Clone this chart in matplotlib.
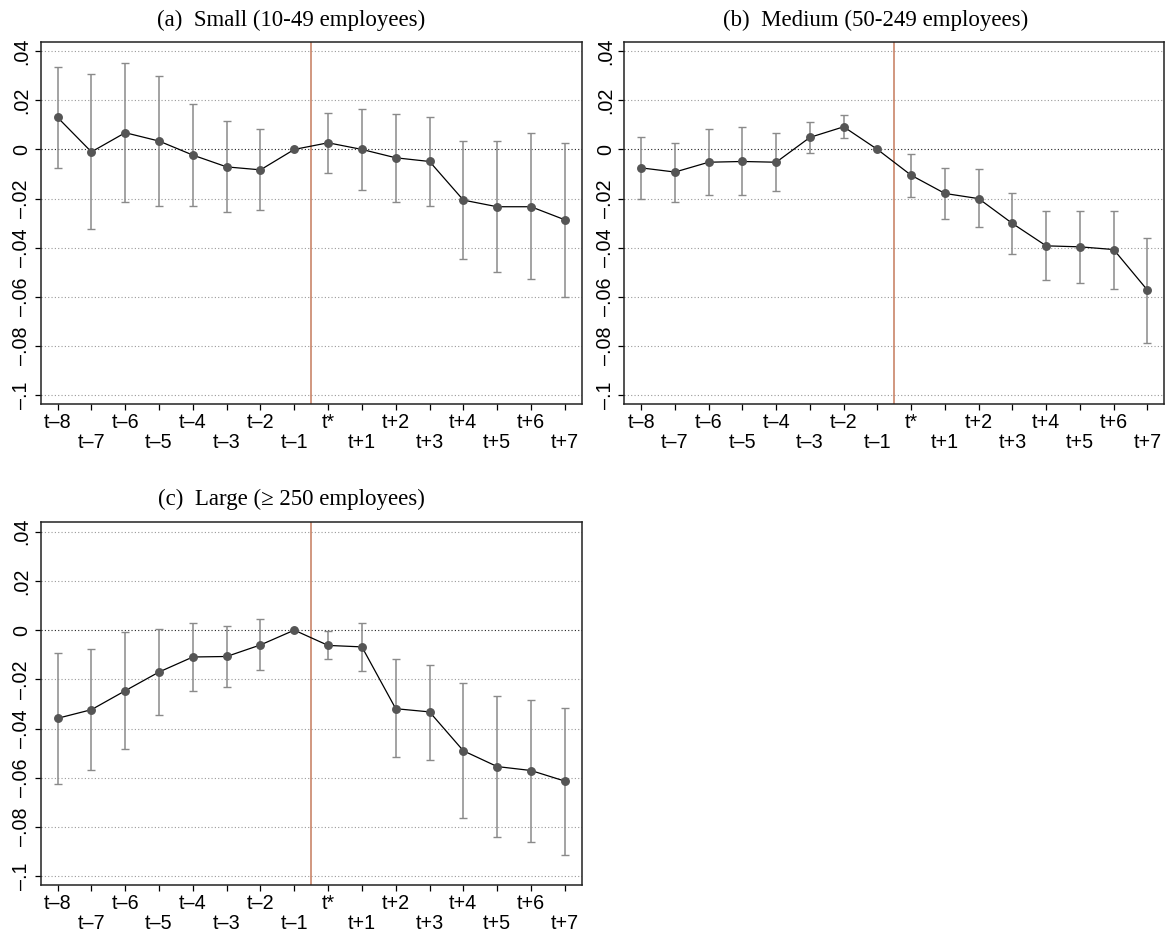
import numpy as np
import matplotlib
matplotlib.use("Agg")
import matplotlib.pyplot as plt

# Event-time labels (t* is the event period, t-1 the omitted reference)
periods = ["t–8", "t–7", "t–6", "t–5", "t–4", "t–3", "t–2", "t–1",
           "t*", "t+1", "t+2", "t+3", "t+4", "t+5", "t+6", "t+7"]
event_pos = [-8, -7, -6, -5, -4, -3, -2, -1, 0, 1, 2, 3, 4, 5, 6, 7]

# (a) Small firms: point estimates and 95% CI bounds
small_coef = [0.0130, -0.0010, 0.0068, 0.0034, -0.0023, -0.0071, -0.0083, 0.0,
              0.0027, 0.0, -0.0034, -0.0049, -0.0206, -0.0233, -0.0233, -0.0286]
small_lo = [-0.0075, -0.0324, -0.0213, -0.0228, -0.0228, -0.0256, -0.0248, 0.0,
            -0.0094, -0.0164, -0.0212, -0.0231, -0.0447, -0.0500, -0.0528, -0.0600]
small_hi = [0.0336, 0.0306, 0.0350, 0.0300, 0.0184, 0.0116, 0.0085, 0.0,
            0.0149, 0.0165, 0.0146, 0.0133, 0.0035, 0.0035, 0.0068, 0.0028]

# (b) Medium firms
medium_coef = [-0.0075, -0.0092, -0.0052, -0.0049, -0.0052, 0.0049, 0.0092, 0.0,
               -0.0105, -0.0179, -0.0200, -0.0301, -0.0392, -0.0396, -0.0407, -0.0572]
medium_lo = [-0.0200, -0.0212, -0.0186, -0.0186, -0.0168, -0.0016, 0.0046, 0.0,
             -0.0193, -0.0282, -0.0317, -0.0427, -0.0532, -0.0543, -0.0566, -0.0787]
medium_hi = [0.0051, 0.0028, 0.0085, 0.0092, 0.0068, 0.0111, 0.0142, 0.0,
             -0.0019, -0.0076, -0.0081, -0.0177, -0.0250, -0.0250, -0.0250, -0.0360]

# (c) Large firms
large_coef = [-0.0358, -0.0323, -0.0246, -0.0170, -0.0109, -0.0107, -0.0060, 0.0,
              -0.0062, -0.0068, -0.0319, -0.0332, -0.0490, -0.0554, -0.0570, -0.0613]
large_lo = [-0.0623, -0.0567, -0.0482, -0.0346, -0.0248, -0.0231, -0.0161, 0.0,
            -0.0119, -0.0166, -0.0516, -0.0526, -0.0764, -0.0839, -0.0859, -0.0912]
large_hi = [-0.0094, -0.0077, -0.0009, 0.0005, 0.0031, 0.0018, 0.0045, 0.0,
            -0.0004, 0.0028, -0.0119, -0.0140, -0.0214, -0.0266, -0.0284, -0.0316]

y_ticks = [0.04, 0.02, 0.0, -0.02, -0.04, -0.06, -0.08, -0.1]
y_ticklabels = [".04", ".02", "0", "–.02", "–.04", "–.06", "–.08", "–.1"]

titles = ["(a)  Small (10-49 employees)",
          "(b)  Medium (50-249 employees)",
          "(c)  Large (≥ 250 employees)"]

SANS = ["Liberation Sans", "DejaVu Sans"]
SERIF = ["Liberation Serif", "DejaVu Serif"]
TICK_FS = 14.2
TITLE_FS = 16.5

fig = plt.figure(figsize=(11.66, 9.32), dpi=100)
W, H = 1166.0, 932.0


def px_axes(left, top, right, bottom):
    return fig.add_axes([left / W, 1 - bottom / H, (right - left) / W, (bottom - top) / H])


def draw_panel(ax, coef, lo, hi):
    x = np.array(event_pos, dtype=float)
    coef = np.array(coef)
    lo = np.array(lo)
    hi = np.array(hi)

    ax.set_xlim(-8.5, 7.5)
    ax.set_ylim(-0.1035, 0.0438)

    # horizontal dotted grid, zero line darker
    for yv in y_ticks:
        col = "#222222" if yv == 0 else "#9a9a9a"
        ax.axhline(yv, color=col, lw=0.8, ls=(0, (1, 2)), zorder=1)

    # event line between t-1 and t*
    ax.axvline(-0.5, color="#c57a5c", lw=1.1, zorder=2)

    has_ci = hi > lo
    ax.errorbar(x[has_ci], coef[has_ci],
                yerr=[coef[has_ci] - lo[has_ci], hi[has_ci] - coef[has_ci]],
                fmt="none", ecolor="#8a8a8a", elinewidth=1.1,
                capsize=3.0, capthick=1.0, zorder=3)
    ax.plot(x, coef, color="black", lw=0.9, zorder=4)
    ax.plot(x, coef, ls="none", marker="o", ms=5.4, color="#555555",
            mec="#555555", zorder=5)

    ax.set_yticks(y_ticks)
    ax.set_yticklabels(y_ticklabels, rotation=90, va="center",
                       fontsize=TICK_FS, family=SANS)
    ax.set_xticks(event_pos)
    ax.set_xticklabels(periods, fontsize=TICK_FS, family=SANS)
    ax.tick_params(axis="both", direction="out", length=4.3, width=0.9,
                   color="black")
    ax.tick_params(axis="y", pad=2.5)
    ax.tick_params(axis="x", pad=2.5)
    for i, tick in enumerate(ax.xaxis.get_major_ticks()):
        if i % 2 == 1:
            tick.set_pad(16.5)

    for sp in ax.spines.values():
        sp.set_linewidth(1.1)
        sp.set_color("#222222")


ax_a = px_axes(40.7, 41.7, 581.7, 404.0)
ax_b = px_axes(624.3, 41.7, 1164.3, 404.0)
ax_c = px_axes(40.7, 522.3, 581.7, 885.0)

draw_panel(ax_a, small_coef, small_lo, small_hi)
draw_panel(ax_b, medium_coef, medium_lo, medium_hi)
draw_panel(ax_c, large_coef, large_lo, large_hi)

fig.text(291 / W, 1 - 26 / H, titles[0], ha="center", va="baseline",
         fontsize=TITLE_FS, family=SERIF)
fig.text(876 / W, 1 - 26 / H, titles[1], ha="center", va="baseline",
         fontsize=TITLE_FS, family=SERIF)
fig.text(291 / W, 1 - 505 / H, titles[2], ha="center", va="baseline",
         fontsize=TITLE_FS, family=SERIF)

fig.savefig("out.png", dpi=100, facecolor="white")
